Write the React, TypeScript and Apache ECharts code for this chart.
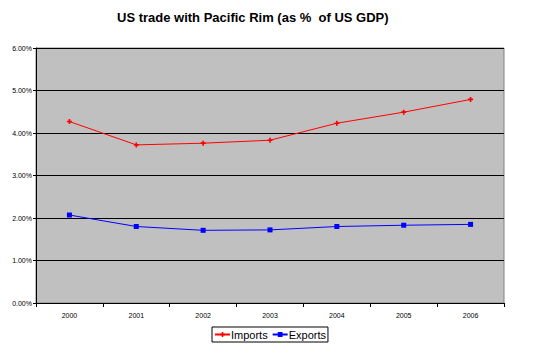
import React, { useEffect, useRef } from "react";
import * as echarts from "echarts";

const years = ["2000", "2001", "2002", "2003", "2004", "2005", "2006"];
const imports = [4.27, 3.72, 3.76, 3.83, 4.23, 4.49, 4.79];
const exports_ = [2.07, 1.80, 1.71, 1.72, 1.80, 1.83, 1.85];
const titleText = "US trade with Pacific Rim (as %  of US GDP)";

const plusPath = "path://M2,0H4V2H6V4H4V6H2V4H0V2H2Z";

export default function App() {
  const ref = useRef<HTMLDivElement>(null);
  useEffect(() => {
    if (!ref.current) return;
    const chart = echarts.init(ref.current, undefined, { renderer: "svg" });
    chart.setOption({
      animation: false,
      backgroundColor: "#ffffff",
      textStyle: { fontFamily: "Liberation Sans, Arial, sans-serif" },
      title: {
        text: titleText,
        left: 112,
        top: 6,
        textStyle: { fontSize: 13, fontWeight: "bold", color: "#000", fontFamily: "Liberation Sans, Arial, sans-serif" },
      },
      legend: {
        left: 212,
        top: 327,
        borderColor: "#000",
        borderWidth: 1,
        padding: [2, 2, 2, 2],
        itemGap: 4,
        itemWidth: 15,
        itemHeight: 6,
        textStyle: { fontSize: 11, color: "#000", padding: [0, 0, 0, -4] },
        data: ["Imports", "Exports"],
      },
      grid: {
        left: 36,
        top: 48,
        width: 468,
        height: 255,
        show: true,
        backgroundColor: "#c0c0c0",
        borderColor: "#808080",
        borderWidth: 1,
      },
      xAxis: {
        type: "category",
        data: years,
        boundaryGap: true,
        axisLine: { show: true, lineStyle: { color: "#000", width: 1 } },
        axisTick: { show: true, alignWithLabel: false, length: 4, lineStyle: { color: "#000" } },
        axisLabel: { fontSize: 7, color: "#000", margin: 9 },
      },
      yAxis: {
        type: "value",
        min: 0,
        max: 6,
        interval: 1,
        axisLine: { show: true, lineStyle: { color: "#000", width: 1 } },
        axisTick: { show: true, length: 3, lineStyle: { color: "#000" } },
        axisLabel: {
          fontSize: 7,
          color: "#000",
          margin: 4,
          formatter: (v: number) => v.toFixed(2) + "%",
        },
        splitLine: { show: true, lineStyle: { color: "#000", width: 1 } },
      },
      series: [
        {
          name: "Imports",
          type: "line",
          data: imports,
          color: "#ff0000",
          lineStyle: { color: "#ff0000", width: 1 },
          symbol: plusPath,
          symbolSize: 5,
          itemStyle: { color: "#ff0000" },
        },
        {
          name: "Exports",
          type: "line",
          data: exports_,
          color: "#0000ff",
          lineStyle: { color: "#0000ff", width: 1 },
          symbol: "rect",
          symbolSize: 5,
          itemStyle: { color: "#0000ff" },
        },
      ],
    });
    return () => chart.dispose();
  }, []);
  return (
    <div
      ref={ref}
      style={{ position: "absolute", left: 0, top: 0, width: 545, height: 354 }}
    />
  );
}
